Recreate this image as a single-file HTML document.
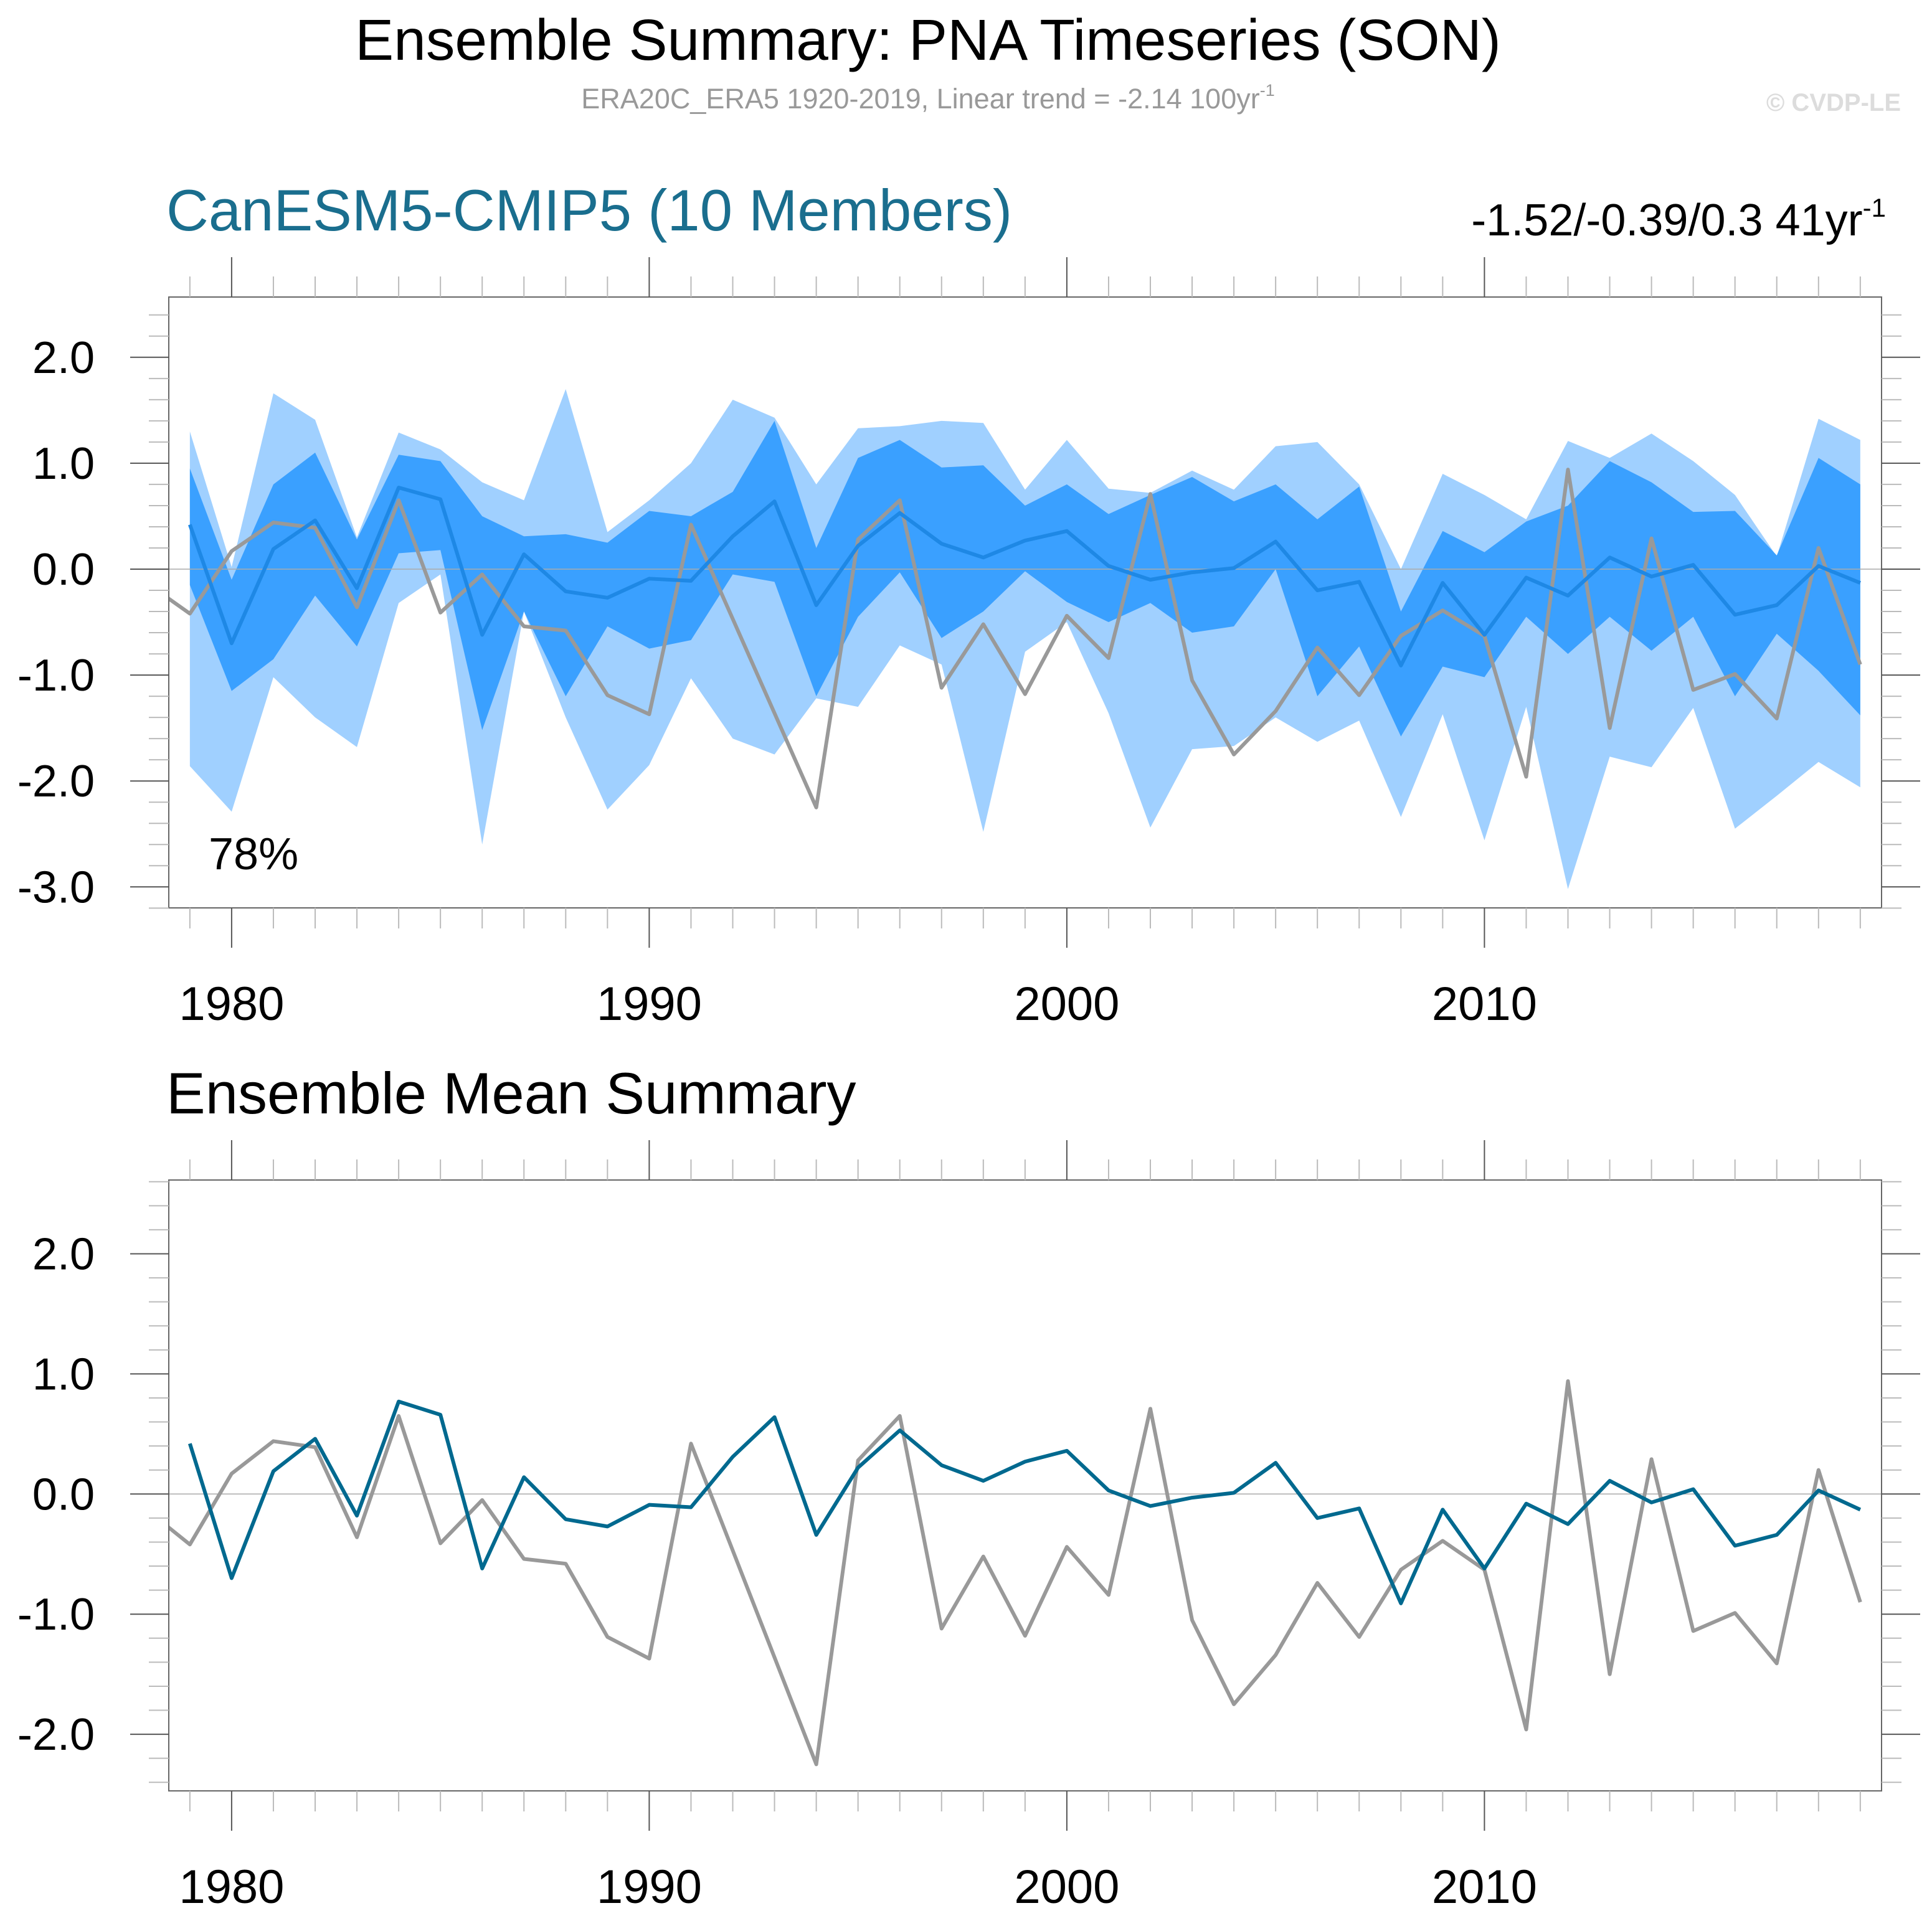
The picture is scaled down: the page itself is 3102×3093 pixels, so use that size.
<!DOCTYPE html>
<html><head><meta charset="utf-8">
<style>
html,body{margin:0;padding:0;background:#fff;}
svg{display:block;}
text{font-family:"Liberation Sans",sans-serif;}
</style></head>
<body>
<svg id="chart" width="3102" height="3093" viewBox="0 0 3102 3093" xmlns="http://www.w3.org/2000/svg">
<text x="1490" y="96" font-size="93" text-anchor="middle" fill="#000">Ensemble Summary: PNA Timeseries (SON)</text>
<text x="1490" y="174" font-size="45" text-anchor="middle" fill="#999">ERA20C_ERA5 1920-2019, Linear trend = -2.14 100yr<tspan font-size="27" dy="-20">-1</tspan></text>
<text x="3052" y="178" font-size="40" font-weight="bold" text-anchor="end" fill="#dcdcdc">© CVDP-LE</text>
<text x="267" y="370" font-size="94" fill="#1a6e8e">CanESM5-CMIP5 (10 Members)</text>
<text x="3028" y="378" font-size="72" text-anchor="end" fill="#000">-1.52/-0.39/0.3 41yr<tspan font-size="42" dy="-30">-1</tspan></text>
<text x="335" y="1396" font-size="72" fill="#000">78%</text>
<text x="267" y="1788" font-size="94" fill="#000">Ensemble Mean Summary</text>
<g id="g1"></g>
<g id="g2"></g>
</svg>
<script>
const years = [1979,1980,1981,1982,1983,1984,1985,1986,1987,1988,1989,1990,1991,1992,1993,1994,1995,1996,1997,1998,1999,2000,2001,2002,2003,2004,2005,2006,2007,2008,2009,2010,2011,2012,2013,2014,2015,2016,2017,2018,2019];
const ensMean = [0.42,-0.70,0.19,0.46,-0.18,0.77,0.66,-0.62,0.14,-0.21,-0.27,-0.09,-0.11,0.31,0.64,-0.34,0.22,0.53,0.24,0.11,0.27,0.36,0.03,-0.10,-0.03,0.01,0.26,-0.20,-0.12,-0.91,-0.13,-0.62,-0.08,-0.25,0.11,-0.07,0.04,-0.43,-0.34,0.03,-0.13];
const obsYears = [1978,1979,1980,1981,1982,1983,1984,1985,1986,1987,1988,1989,1990,1991,1992,1993,1994,1995,1996,1997,1998,1999,2000,2001,2002,2003,2004,2005,2006,2007,2008,2009,2010,2011,2012,2013,2014,2015,2016,2017,2018,2019];
const obs = [-0.14,-0.42,0.17,0.44,0.39,-0.36,0.65,-0.41,-0.05,-0.54,-0.58,-1.19,-1.37,0.42,-0.47,-1.36,-2.25,0.28,0.65,-1.12,-0.52,-1.18,-0.44,-0.84,0.71,-1.05,-1.75,-1.34,-0.74,-1.19,-0.63,-0.39,-0.63,-1.96,0.94,-1.50,0.29,-1.14,-0.99,-1.41,0.20,-0.90];
const lightHi = [1.30,0.02,1.66,1.41,0.30,1.29,1.13,0.82,0.65,1.70,0.35,0.65,1.00,1.60,1.43,0.80,1.33,1.35,1.40,1.38,0.75,1.22,0.76,0.72,0.93,0.75,1.16,1.20,0.80,0.00,0.90,0.70,0.47,1.21,1.05,1.28,1.02,0.70,0.12,1.42,1.22];
const darkHi = [0.95,-0.10,0.80,1.10,0.28,1.08,1.02,0.50,0.31,0.33,0.25,0.55,0.50,0.73,1.40,0.20,1.05,1.22,0.96,0.98,0.60,0.80,0.52,0.70,0.87,0.64,0.80,0.47,0.78,-0.40,0.36,0.16,0.45,0.60,1.02,0.82,0.54,0.55,0.13,1.05,0.80];
const darkLo = [-0.15,-1.15,-0.85,-0.25,-0.73,0.15,0.18,-1.52,-0.40,-1.20,-0.54,-0.75,-0.67,-0.05,-0.12,-1.20,-0.45,-0.03,-0.65,-0.40,-0.02,-0.31,-0.50,-0.32,-0.60,-0.54,0.00,-1.20,-0.73,-1.58,-0.92,-1.02,-0.45,-0.80,-0.45,-0.77,-0.45,-1.20,-0.61,-0.96,-1.38];
const lightLo = [-1.86,-2.29,-1.02,-1.40,-1.68,-0.32,-0.05,-2.60,-0.40,-1.40,-2.27,-1.85,-1.03,-1.60,-1.75,-1.22,-1.30,-0.72,-0.90,-2.48,-0.78,-0.50,-1.36,-2.44,-1.70,-1.67,-1.40,-1.63,-1.43,-2.34,-1.37,-2.56,-1.30,-3.02,-1.77,-1.87,-1.31,-2.45,-2.14,-1.82,-2.06];
const yTicks1 = [2.0,1.0,0.0,-1.0,-2.0,-3.0];
const yTicks2 = [2.0,1.0,0.0,-1.0,-2.0];
const xTicks = [1980,1990,2000,2010];

const NS="http://www.w3.org/2000/svg";
const L=271,R=3021;
function X(yr){return 371.9+(yr-1980)*67.05;}
function mk(p,tag,attrs){const e=document.createElementNS(NS,tag);for(const k in attrs)e.setAttribute(k,attrs[k]);p.appendChild(e);return e;}

function panel(gid,top,bot,y0,pu,vmin,vmax,yt,idx){
  const g=document.getElementById(gid);
  const Y=v=>y0-pu*v;
  const cid='clip'+idx;
  const defs=mk(g,'defs',{});
  const cp=mk(defs,'clipPath',{id:cid});
  mk(cp,'rect',{x:L,y:top,width:R-L,height:bot-top});
  const inner=mk(g,'g',{'clip-path':'url(#'+cid+')'});
  if(idx===1){
    let p='';years.forEach((y,i)=>p+=(i?'L':'M')+X(y)+','+Y(lightHi[i]));
    for(let i=years.length-1;i>=0;i--)p+='L'+X(years[i])+','+Y(lightLo[i]);
    const a=mk(inner,'path',{d:p+'Z',fill:'#a0d0ff'});
    
    
    p='';years.forEach((y,i)=>p+=(i?'L':'M')+X(y)+','+Y(darkHi[i]));
    for(let i=years.length-1;i>=0;i--)p+='L'+X(years[i])+','+Y(darkLo[i]);
    const b=mk(inner,'path',{d:p+'Z',fill:'#3aa0ff'});
    
    
  }
  const z=mk(inner,'line',{x1:L,x2:R,y1:Y(0),y2:Y(0),stroke:'#aaa','stroke-width':1.5});
  
  
  let po='';obsYears.forEach((y,i)=>po+=(i?'L':'M')+X(y)+','+Y(obs[i]));
  const ol=mk(inner,'path',{d:po,fill:'none',stroke:'#999','stroke-width':6,'stroke-linejoin':'round'});
  
  
  let pm='';years.forEach((y,i)=>pm+=(i?'L':'M')+X(y)+','+Y(ensMean[i]));
  const ml=mk(inner,'path',{d:pm,fill:'none',stroke:idx===1?'#1e88e5':'#00698f','stroke-width':6,'stroke-linejoin':'round'});
  
  
  const fr=mk(g,'rect',{x:L,y:top,width:R-L,height:bot-top,fill:'none',stroke:'#666','stroke-width':2});
  
  
  for(let k=Math.ceil(vmin*5);k<=Math.floor(vmax*5);k++){
    const v=k/5, y=Y(v), major=(k%5===0);
    const len=major?62:32;
    mk(g,'line',{x1:L-len,x2:L,y1:y,y2:y,stroke:major?'#555':'#bbb','stroke-width':2});
    mk(g,'line',{x1:R,x2:R+len,y1:y,y2:y,stroke:major?'#555':'#bbb','stroke-width':2});
  }
  yt.forEach(v=>{
    const t=mk(g,'text',{x:152,y:Y(v)+25,'font-size':72,'text-anchor':'end',fill:'#000'});
    t.textContent=v.toFixed(1);
    
    
  });
  for(let yr=1979;yr<=2019;yr++){
    if(X(yr)<L||X(yr)>R)continue;
    const major=(yr%10===0), len=major?64:33, x=X(yr);
    mk(g,'line',{x1:x,x2:x,y1:top-len,y2:top,stroke:major?'#555':'#bbb','stroke-width':2});
    mk(g,'line',{x1:x,x2:x,y1:bot,y2:bot+len,stroke:major?'#555':'#bbb','stroke-width':2});
  }
  xTicks.forEach(yr=>{
    const t=mk(g,'text',{x:X(yr),y:bot+180,'font-size':76,'text-anchor':'middle',fill:'#000'});
    t.textContent=String(yr);
    
    
  });
}
panel('g1',477,1458,914,170.1,-3.2,2.57,yTicks1,1);
panel('g2',1895,2876,2399.3,192.9,-2.47,2.62,yTicks2,2);
</script>
</body></html>
